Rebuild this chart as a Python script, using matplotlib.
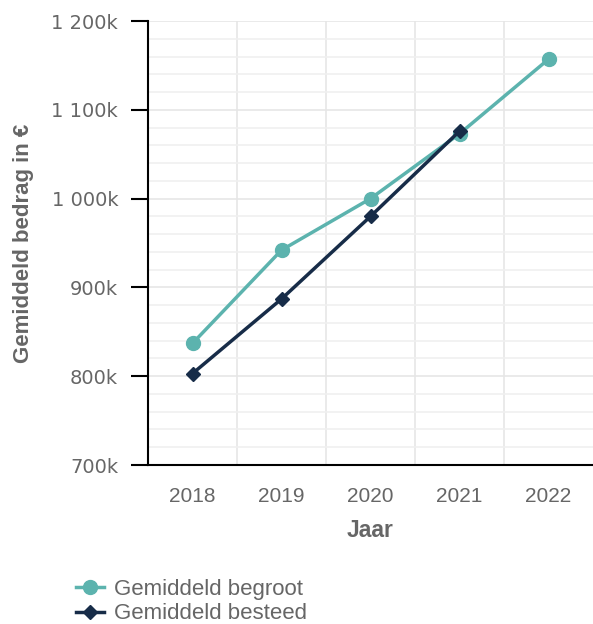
import matplotlib
matplotlib.use("Agg")
import matplotlib.pyplot as plt
from matplotlib.ticker import FuncFormatter, MultipleLocator, FixedLocator

plt.rcParams['font.family'] = ['Liberation Sans', 'DejaVu Sans']

years = ['2018', '2019', '2020', '2021', '2022']
begroot = [837, 942, 1000, 1073, 1157]   # in k EUR
besteed = [803, 887, 980, 1076]

teal = '#5cb3ae'
navy = '#172c48'
grey = '#666666'

fig = plt.figure(figsize=(5.93, 6.24), dpi=100)
ax = fig.add_axes([0.2496, 0.2548, 0.7504, 0.7115])

x = list(range(len(years)))
ax.plot(x, begroot, color=teal, lw=2.5, marker='o', ms=10, label='Gemiddeld begroot', zorder=3)
ax.plot(x[:len(besteed)], besteed, color=navy, lw=2.5, marker='D', ms=7, label='Gemiddeld besteed', zorder=4)

ax.set_xlim(-0.5, 4.5)
ax.set_ylim(700, 1200)
ax.set_xticks(x)
ax.set_xticklabels(years)
ax.xaxis.set_minor_locator(FixedLocator([0.5, 1.5, 2.5, 3.5]))
ax.yaxis.set_major_locator(MultipleLocator(100))
ax.yaxis.set_minor_locator(MultipleLocator(20))

def fmt(v, pos):
    v = int(round(v))
    s = f"{v:,}".replace(',', ' ')
    return s + 'k'
ax.yaxis.set_major_formatter(FuncFormatter(fmt))

ax.grid(True, which='major', axis='y', color='#e6e6e6', lw=1.2)
ax.grid(True, which='minor', axis='y', color='#f0f0f0', lw=1.2)
ax.grid(True, which='minor', axis='x', color='#e6e6e6', lw=1.2)
ax.set_axisbelow(True)

for s in ['top', 'right']:
    ax.spines[s].set_visible(False)
ax.spines['left'].set_color('black')
ax.spines['bottom'].set_color('black')
ax.spines['left'].set_linewidth(1.5)
ax.spines['bottom'].set_linewidth(1.5)

ax.tick_params(axis='y', which='major', length=12.5, width=1.5, color='black',
               labelsize=14, labelcolor=grey, pad=9)
ax.tick_params(axis='y', which='minor', length=0)
ax.tick_params(axis='x', which='both', length=0, labelsize=15, labelcolor=grey, pad=16)
for lab in ax.get_yticklabels():
    lab.set_family('DejaVu Sans')

ax.set_xlabel('Jaar', fontsize=16.5, fontweight='bold', color=grey)
ax.set_ylabel('Gemiddeld bedrag in €', fontsize=16, fontweight='bold', color=grey)
ax.xaxis.set_label_coords(0.5, -0.121)
ax.yaxis.set_label_coords(-0.256, 0.5)

fig.legend(loc='lower left', bbox_to_anchor=(0.105, -0.022), frameon=False,
           fontsize=16, labelcolor=grey, handlelength=1.3, handletextpad=0.45,
           labelspacing=0.15, borderaxespad=0.2)

fig.savefig('out.png', dpi=100)
